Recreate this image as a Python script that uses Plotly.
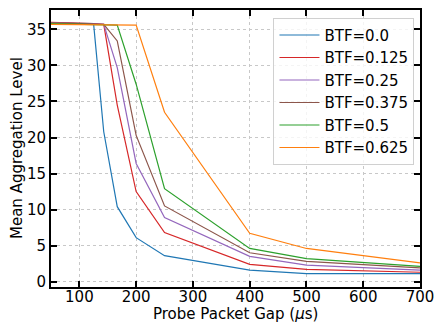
import plotly.graph_objects as go

gap = [50, 100, 125, 142.9, 166.7, 200, 250, 400, 500, 700]
btf_labels = ["BTF=0.0", "BTF=0.125", "BTF=0.25", "BTF=0.375", "BTF=0.5", "BTF=0.625"]
btf_0 = [35.9, 35.9, 35.8, 20.8, 10.4, 6.1, 3.6, 1.6, 1.1, 1.1]
btf_125 = [36.0, 35.9, 35.8, 35.7, 24.5, 12.5, 6.8, 2.4, 1.7, 1.3]
btf_25 = [35.9, 35.8, 35.8, 35.7, 29.7, 16.4, 8.9, 3.5, 2.3, 1.6]
btf_375 = [35.9, 35.8, 35.7, 35.7, 33.4, 20.3, 10.5, 4.0, 2.8, 1.9]
btf_5 = [35.8, 35.7, 35.7, 35.6, 35.6, 27.4, 12.9, 4.6, 3.2, 2.1]
btf_625 = [35.7, 35.7, 35.6, 35.6, 35.6, 35.6, 23.5, 6.7, 4.6, 2.6]
series = [btf_0, btf_125, btf_25, btf_375, btf_5, btf_625]
colors = ["#1f77b4", "#d62728", "#9467bd", "#8c564b", "#2ca02c", "#ff7f0e"]
x_title = "Probe Packet Gap (<i>μ</i>s)"
y_title = "Mean Aggregation Level"

fig = go.Figure()
for name, ys, c in zip(btf_labels, series, colors):
    fig.add_trace(go.Scatter(x=gap, y=ys, mode="lines", name=name,
                             line=dict(color=c, width=1.2)))

axis_common = dict(
    showline=True, linecolor="black", linewidth=2, mirror="ticks",
    ticks="inside", ticklen=6, tickwidth=1.5, tickcolor="black",
    showgrid=True, gridcolor="#c8c8c8", griddash="dot", gridwidth=1,
    zeroline=False, tickfont=dict(size=15, color="black"), automargin=False,
)
fig.update_xaxes(range=[50, 700], tickvals=[100, 200, 300, 400, 500, 600, 700],
                 ticklabelstandoff=-5, **axis_common)
fig.update_yaxes(range=[-0.75, 37.7], tickvals=[0, 5, 10, 15, 20, 25, 30, 35], **axis_common)
fig.add_annotation(text=x_title, xref="paper", yref="paper", x=0.5, y=0,
                   xanchor="center", yanchor="top", yshift=-16, showarrow=False,
                   font=dict(size=15, color="black"))
fig.add_annotation(text=y_title, xref="paper", yref="paper", x=0, y=0.5,
                   xanchor="center", yanchor="middle", xshift=-34.5, textangle=-90,
                   showarrow=False, font=dict(size=15, color="black"))
fig.update_layout(
    width=435, height=322,
    margin=dict(l=51, r=15, t=10, b=35),
    paper_bgcolor="white", plot_bgcolor="white",
    font=dict(family="DejaVu Sans", size=15, color="black"),
    legend=dict(x=0.985, y=0.972, xanchor="right", yanchor="top",
                bgcolor="rgba(255,255,255,0.8)", bordercolor="#d0d0d0", borderwidth=1,
                font=dict(size=15), tracegroupgap=0, itemwidth=40),
    showlegend=True,
)
fig.write_html("out.html", config={"displayModeBar": False},
               post_script="document.body.style.margin='0';document.body.style.overflow='hidden';")
